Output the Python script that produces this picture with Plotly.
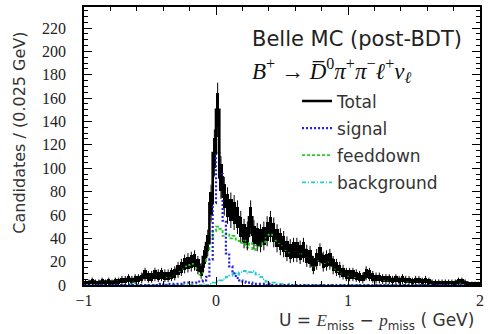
import numpy as np
import plotly.graph_objects as go

bin_width = 0.025
x_min = -1.0

total = [2, 2, 3, 2, 2, 3, 2, 3, 2, 3,
         3, 4, 4, 5, 4, 5, 5, 6, 9, 7,
         7, 9, 8, 9, 8, 8, 9, 10, 13, 15,
         18, 19, 20, 21, 17, 12, 24, 36, 70, 113,
         150, 92, 76, 68, 64, 62, 58, 50, 44, 42,
         58, 43, 41, 40, 42, 46, 50, 45, 40, 37,
         35, 31, 29, 30, 30, 28, 30, 25, 24, 17,
         22, 26, 20, 21, 22, 17, 15, 13, 11, 9,
         9, 9, 8, 7, 6, 10, 9, 7, 6, 6,
         5, 5, 5, 4, 5, 4, 5, 4, 4, 3,
         4, 4, 3, 4, 3, 2, 2, 2, 2, 2,
         2, 2, 2, 3, 3, 2, 1, 1, 1, 1]

signal = [0, 0, 0, 0, 0, 0, 0, 0, 0, 0,
          0, 0, 0, 0, 0, 0, 0, 0, 0, 0,
          0, 0, 0, 1, 0, 1, 1, 1, 1, 1,
          2, 2, 2, 2, 3, 3, 4, 7, 22, 70,
          113, 95, 55, 27, 16, 10, 6, 4, 3, 2,
          2, 1, 1, 1, 1, 0, 1, 0, 0, 0,
          0, 0, 0, 0, 0, 0, 0, 0, 0, 0,
          0, 0, 0, 0, 0, 0, 0, 0, 0, 0,
          0, 0, 0, 0, 0, 0, 0, 0, 0, 0,
          0, 0, 0, 0, 0, 0, 0, 0, 0, 0,
          0, 0, 0, 0, 0, 0, 0, 0, 0, 0,
          0, 0, 0, 0, 0, 0, 0, 0, 0, 0]

feeddown = [2, 2, 3, 2, 2, 3, 2, 3, 2, 3,
            3, 4, 4, 5, 3, 5, 5, 6, 8, 7,
            7, 9, 8, 8, 8, 7, 8, 9, 12, 14,
            16, 17, 18, 19, 14, 9, 19, 29, 40, 46,
            50, 48, 42, 44, 40, 42, 38, 36, 38, 32,
            36, 30, 34, 33, 37, 43, 48, 43, 38, 36,
            34, 30, 28, 29, 29, 27, 29, 24, 23, 16,
            21, 25, 19, 20, 21, 16, 14, 12, 10, 9,
            8, 9, 7, 7, 6, 9, 9, 7, 6, 6,
            5, 4, 5, 4, 5, 4, 4, 4, 3, 3,
            4, 3, 3, 4, 3, 2, 2, 2, 2, 2,
            2, 2, 2, 3, 2, 2, 1, 1, 1, 1]

background = [0, 0, 0, 0, 0, 0, 0, 0, 0, 0,
              0, 0, 0, 0, 1, 0, 0, 0, 0, 0,
              0, 0, 0, 0, 0, 0, 0, 0, 0, 0,
              0, 0, 0, 0, 0, 0, 1, 0, 1, 2,
              3, 4, 5, 7, 8, 10, 9, 11, 12, 10,
              11, 12, 9, 7, 5, 3, 2, 2, 1, 1,
              1, 0, 1, 0, 0, 0, 0, 0, 0, 0,
              0, 0, 0, 0, 0, 0, 0, 0, 0, 0,
              0, 0, 0, 0, 0, 0, 0, 0, 0, 0,
              0, 0, 0, 0, 0, 0, 0, 0, 0, 0,
              0, 0, 0, 0, 0, 0, 0, 0, 0, 0,
              0, 0, 0, 0, 0, 0, 0, 0, 0, 0]

n_bins = len(total)
edges = x_min + bin_width * np.arange(n_bins + 1)
centers = edges[:-1] + bin_width / 2
tot = np.array(total, dtype=float)
err = np.sqrt(tot)


def step(vals):
    return list(vals) + [vals[-1]]


fig = go.Figure()

fig.add_trace(go.Scatter(x=edges, y=step(feeddown), mode="lines", line_shape="hv",
                         line=dict(color="#22cc22", width=1.8, dash="3px,2px"),
                         name="feeddown", legendgroup="c", legendrank=3))
fig.add_trace(go.Scatter(x=edges, y=step(background), mode="lines", line_shape="hv",
                         line=dict(color="#22cccc", width=1.8, dash="4px,2px,1px,2px"),
                         name="background", legendgroup="d", legendrank=4))
fig.add_trace(go.Scatter(x=edges, y=step(signal), mode="lines", line_shape="hv",
                         line=dict(color="#2222dd", width=2.2, dash="2px,2px"),
                         name="signal", legendgroup="b", legendrank=2))

# total: error boxes, whiskers and step line
fig.add_trace(go.Bar(x=centers, y=2.4 * err, base=tot - 1.2 * err, width=bin_width,
                     marker=dict(color="black", line=dict(width=0)),
                     showlegend=False, hoverinfo="skip"))
fig.add_trace(go.Scatter(x=centers, y=tot, mode="markers",
                         marker=dict(size=1, color="rgba(0,0,0,0)"),
                         error_y=dict(type="data", array=1.9 * err, thickness=1,
                                      width=0, color="black"),
                         showlegend=False, hoverinfo="skip"))
fig.add_trace(go.Scatter(x=edges, y=step(total), mode="lines", line_shape="hv",
                         line=dict(color="black", width=2.6),
                         name="Total", legendgroup="a", legendrank=1))

axis_common = dict(showline=True, linecolor="black", linewidth=1.5, mirror="ticks",
                   ticks="inside", tickcolor="black", showgrid=False, zeroline=False,
                   tickfont=dict(family="Liberation Serif", size=16, color="#222"))

fig.update_xaxes(range=[-1, 2], tickvals=[-1, 0, 1, 2], ticklen=8, tickwidth=1,
                 minor=dict(dtick=0.2, tick0=0, ticks="inside", ticklen=4,
                            tickcolor="black", tickwidth=1),
                 **axis_common)
fig.update_yaxes(range=[0, 238], dtick=20, tick0=0, ticklen=8, tickwidth=1,
                 ticklabelstandoff=13,
                 minor=dict(dtick=5, tick0=0, ticks="inside", ticklen=4,
                            tickcolor="black", tickwidth=1),
                 **axis_common)

fig.update_layout(
    width=489, height=334,
    margin=dict(l=84, r=5, t=7, b=49),
    plot_bgcolor="white", paper_bgcolor="white",
    bargap=0, barmode="overlay",
    legend=dict(x=0.538, y=0.725, xanchor="left", yanchor="top",
                bgcolor="rgba(0,0,0,0)", tracegroupgap=2,
                font=dict(family="DejaVu Sans", size=17, color="#333")),
    annotations=[
        dict(text="Belle MC (post-BDT)", xref="paper", yref="paper",
             x=0.42, y=0.884, xanchor="left", yanchor="middle", showarrow=False,
             font=dict(family="DejaVu Sans", size=21, color="#222")),
        dict(text="<i>B</i><sup>+</sup> \u2192 <i>D\u0305</i><sup>0</sup><i>\u03c0</i><sup>+</sup>"
                  "<i>\u03c0</i><sup>\u2212</sup><i>\u2113</i><sup>+</sup><i>\u03bd</i><sub><i>\u2113</i></sub>",
             xref="paper", yref="paper",
             x=0.42, y=0.772, xanchor="left", yanchor="middle", showarrow=False,
             font=dict(family="Liberation Serif", size=23, color="#111")),
        dict(text="Candidates / (0.025 GeV)", xref="paper", yref="paper",
             x=-0.165, y=0.917, xanchor="center", yanchor="top", textangle=-90,
             showarrow=False, font=dict(family="DejaVu Sans", size=16, color="#333")),
        dict(text="U = <span style='font-family:Liberation Serif'><i>E</i></span><sub>miss</sub>"
                  " \u2212 <span style='font-family:Liberation Serif'><i>p</i></span><sub>miss</sub> ( GeV)",
             xref="paper", yref="paper",
             x=0.99, y=-0.133, xanchor="right", yanchor="middle", showarrow=False,
             font=dict(family="DejaVu Sans", size=17, color="#333")),
    ],
)

fig.write_html("out.html")
